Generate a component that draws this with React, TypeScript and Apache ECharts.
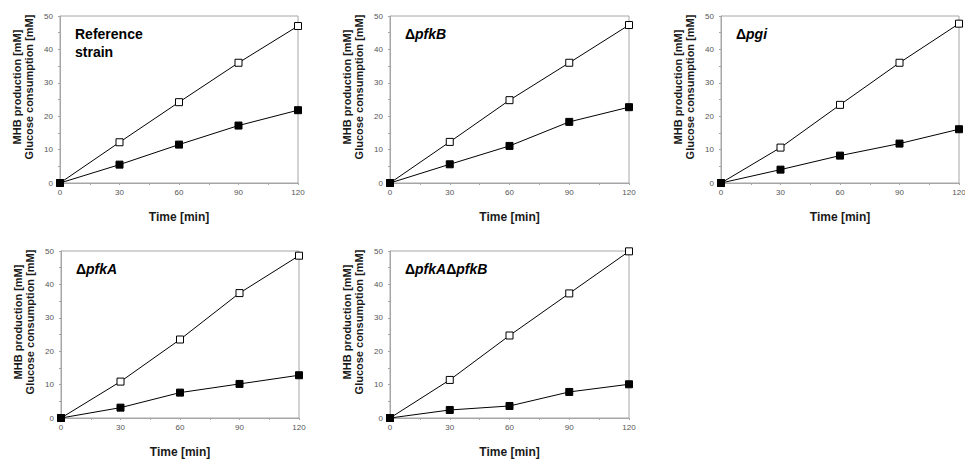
import React, { useEffect, useRef } from "react";
import * as echarts from "echarts";

const times = [0, 30, 60, 90, 120];
const xTicks = [0, 30, 60, 90, 120];
const yTicks = [0, 10, 20, 30, 40, 50];

const panelNames = ["Reference strain", "ΔpfkB", "Δpgi", "ΔpfkA", "ΔpfkAΔpfkB"];

// Glucose consumption (open squares)
const glucoseRef = [0, 12.2, 24.2, 36.0, 47.0];
const glucosePfkB = [0, 12.3, 24.8, 36.0, 47.3];
const glucosePgi = [0, 10.6, 23.4, 36.0, 47.7];
const glucosePfkA = [0, 10.9, 23.5, 37.4, 48.6];
const glucosePfkAPfkB = [0, 11.4, 24.7, 37.3, 49.9];

// MHB production (filled squares)
const mhbRef = [0, 5.5, 11.5, 17.2, 21.8];
const mhbPfkB = [0, 5.6, 11.1, 18.3, 22.7];
const mhbPgi = [0, 4.0, 8.2, 11.8, 16.1];
const mhbPfkA = [0, 3.1, 7.6, 10.2, 12.8];
const mhbPfkAPfkB = [0, 2.4, 3.6, 7.8, 10.1];

const glucoseAll = [glucoseRef, glucosePfkB, glucosePgi, glucosePfkA, glucosePfkAPfkB];
const mhbAll = [mhbRef, mhbPfkB, mhbPgi, mhbPfkA, mhbPfkAPfkB];

// layout (px)
const grids = [
  { left: 60, top: 16, width: 238, height: 167 },
  { left: 390, top: 16, width: 239, height: 167 },
  { left: 721, top: 16, width: 238, height: 167 },
  { left: 61, top: 251, width: 238, height: 167 },
  { left: 390, top: 251, width: 239, height: 167 },
];

const FONT = "'Liberation Sans', Arial, sans-serif";
const FRAME = "#a6a6a6";

function titleText(name: string) {
  if (name === "Reference strain") return "{n|Reference}\n{n|strain}";
  // split into Δ + italic gene names
  const parts = name.split("Δ").filter((p) => p.length > 0);
  return parts.map((p) => "{n|Δ}{i|" + p + "}").join("");
}

export default function App() {
  const ref = useRef<HTMLDivElement>(null);
  useEffect(() => {
    if (!ref.current) return;
    const chart = echarts.init(ref.current, undefined, { renderer: "svg" });

    const xAxis = grids.map((_, i) => ({
      type: "value",
      gridIndex: i,
      min: xTicks[0],
      max: xTicks[xTicks.length - 1],
      interval: 30,
      axisLine: { show: true, lineStyle: { color: FRAME, width: 1 } },
      axisTick: { show: true, length: 2, lineStyle: { color: FRAME } },
      minorTick: { show: true, splitNumber: 2, length: 2, lineStyle: { color: FRAME } },
      splitLine: { show: false },
      axisLabel: { fontSize: 8, color: "#555", fontFamily: FONT, margin: 5 },
    }));
    const yAxis = grids.map((_, i) => ({
      type: "value",
      gridIndex: i,
      min: yTicks[0],
      max: yTicks[yTicks.length - 1],
      interval: 10,
      axisLine: { show: true, lineStyle: { color: FRAME, width: 1 } },
      axisTick: { show: true, length: 2, lineStyle: { color: FRAME } },
      minorTick: { show: true, splitNumber: 2, length: 2, lineStyle: { color: FRAME } },
      splitLine: { show: false },
      axisLabel: { fontSize: 8, color: "#555", fontFamily: FONT, margin: 7 },
    }));

    const series: any[] = [];
    grids.forEach((_, i) => {
      series.push({
        type: "line",
        name: "Glucose consumption",
        xAxisIndex: i,
        yAxisIndex: i,
        data: times.map((t, k) => [t, glucoseAll[i][k]]),
        symbol: "rect",
        symbolSize: 7,
        showAllSymbol: true,
        lineStyle: { color: "#000", width: 1 },
        itemStyle: { color: "#fff", borderColor: "#000", borderWidth: 1 },
        z: 3,
      });
      series.push({
        type: "line",
        name: "MHB production",
        xAxisIndex: i,
        yAxisIndex: i,
        data: times.map((t, k) => [t, mhbAll[i][k]]),
        symbol: "rect",
        symbolSize: 7,
        showAllSymbol: true,
        lineStyle: { color: "#000", width: 1 },
        itemStyle: { color: "#000", borderColor: "#000", borderWidth: 1 },
        z: 4,
      });
    });

    const graphic: any[] = [];
    grids.forEach((g, i) => {
      // y axis title (two lines, rotated)
      graphic.push({
        type: "text",
        x: g.left - 37,
        y: g.top + 71,
        rotation: Math.PI / 2,
        style: {
          text: "MHB production [mM]\nGlucose consumption [mM]",
          font: `bold 11px ${FONT}`,
          fill: "#1a1a1a",
          textAlign: "center",
          textVerticalAlign: "middle",
          lineHeight: 11.5,
        },
      });
      // x axis title
      graphic.push({
        type: "text",
        x: g.left + g.width / 2,
        y: g.top + g.height + 34,
        style: {
          text: "Time [min]",
          font: `bold 12px ${FONT}`,
          fill: "#1a1a1a",
          textAlign: "center",
          textVerticalAlign: "middle",
        },
      });
      // panel title
      graphic.push({
        type: "text",
        x: g.left + 15,
        y: g.top + 9,
        style: {
          text: titleText(panelNames[i]),
          fill: "#000",
          textAlign: "left",
          textVerticalAlign: "top",
          rich: {
            n: { fontSize: 14, fontWeight: "bold", fontFamily: FONT, fill: "#000", lineHeight: 18 },
            i: { fontSize: 14, fontWeight: "bold", fontStyle: "italic", fontFamily: FONT, fill: "#000", lineHeight: 18 },
          },
        },
      });
    });

    chart.setOption({
      animation: false,
      backgroundColor: "#fff",
      grid: grids.map((g) => ({
        left: g.left,
        top: g.top,
        width: g.width,
        height: g.height,
        show: true,
        borderColor: FRAME,
        borderWidth: 1,
        backgroundColor: "transparent",
        containLabel: false,
        outerBoundsMode: "none",
      })),
      xAxis,
      yAxis,
      series,
      graphic,
    });
    return () => chart.dispose();
  }, []);
  return (
    <div
      ref={ref}
      style={{ position: "fixed", left: 0, top: 0, width: 965, height: 459, background: "#fff" }}
    />
  );
}
